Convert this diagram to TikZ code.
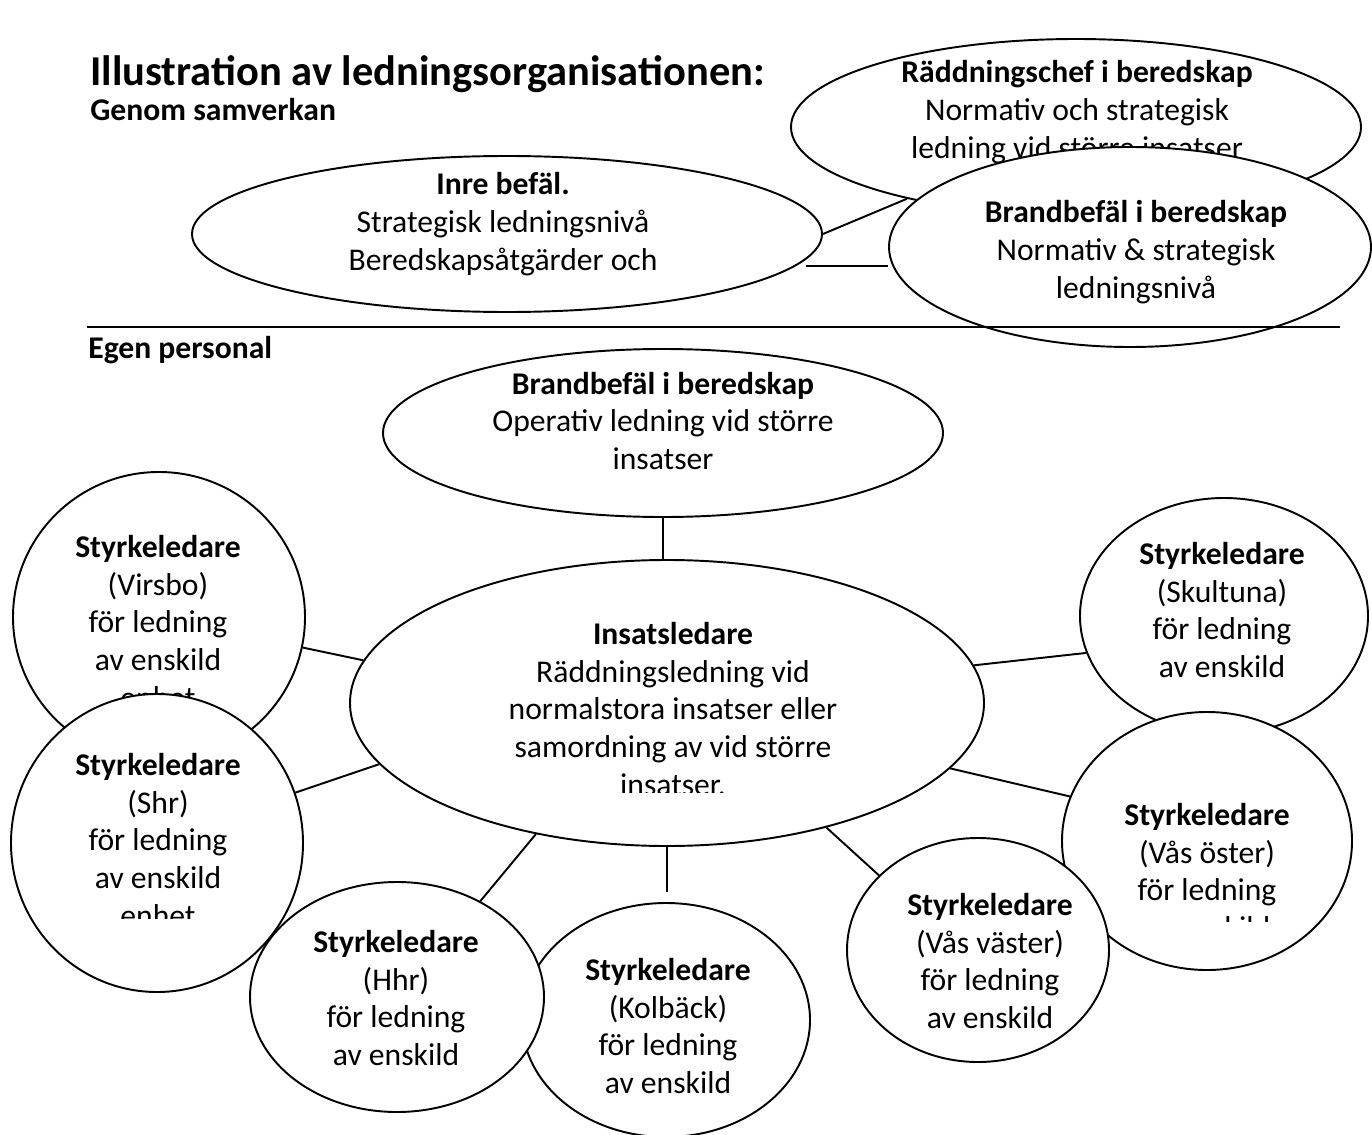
\documentclass[tikz,border=0pt]{standalone}
\usepackage{fontspec}
\setmainfont{Carlito}
\usetikzlibrary{shapes.geometric}
\newcommand\orgfont{\fontsize{18}{21.6}\selectfont}
\tikzset{
  orgshape/.style 2 args={draw, ellipse, fill=white, line width=1.1pt, inner sep=0pt, minimum width={#1*0.02cm}, minimum height={#2*0.02cm}},
  orgtext/.style={align=center, inner sep=0pt, font=\orgfont},
  orghead/.style={anchor=base west, inner sep=0pt, font=\orgfont\bfseries},
  link/.style={line width=1.1pt},
}

\begin{document}
\begin{tikzpicture}[x=0.02cm, y=-0.02cm]
  \useasboundingbox (0,0) rectangle (1372,1135);

  % rubriker
  \node[orghead, font=\fontsize{24.2}{28}\selectfont\bfseries] (title) at (90,86) {Illustration av ledningsorganisationen:};
  \node[orghead] (samverkan) at (90,121) {Genom samverkan};

  % genom samverkan
  \node[orgshape={630}{156}] (inre) at (507,234) {};
  \node[orgtext] (inre-t) at (503,224) {\textbf{Inre befäl.}\\Strategisk ledningsnivå\\Beredskapsåtgärder och};
  \node[orgshape={570}{176}] (rc) at (1076,127) {};
  \node[orgtext] (rc-t) at (1077,112) {\textbf{Räddningschef i beredskap}\\Normativ och strategisk\\ledning vid större insatser};
  \node[orgshape={482}{200}] (bbt) at (1130,247) {};
  \node[orgtext] (bbt-t) at (1136,252) {\textbf{Brandbefäl i beredskap}\\Normativ \& strategisk\\ledningsnivå};

  \draw[link] (inre.east) -- (rc.203);
  \coordinate (inre-gap) at (806,266);
  \draw[link] (inre-gap) -- (inre-gap -| bbt.west);

  \coordinate (rule-l) at (87,327);
  \coordinate (rule-r) at (1340,327);
  \draw[link] (rule-l) -- (rule-r);

  % egen personal
  \node[orghead] (egen) at (88,358) {Egen personal};

  \node[orgshape={560}{168}] (bb) at (663,433) {};
  \node[orgtext] (bb-t) at (663,421) {\textbf{Brandbefäl i beredskap}\\Operativ ledning vid större\\insatser};

  \node[orgshape={634}{286}] (ins) at (667,703) {};
  \begin{scope}
    \clip (340,560) rectangle (1000,792);
    \node[orgtext] (ins-t) at (673,709) {\textbf{Insatsledare}\\Räddningsledning vid\\normalstora insatser eller\\samordning av vid större\\insatser.};
  \end{scope}

  % styrkeledare
  \node[orgshape={292}{290}] (vir) at (159,617) {};
  \node[orgtext] (vir-t) at (158,622) {\textbf{Styrkeledare}\\(Virsbo)\\för ledning\\av enskild\\enhet};
  \node[orgshape={292}{298}] (shr) at (157,843) {};
  \begin{scope}
    \clip (0,700) rectangle (320,918);
    \node[orgtext] (shr-t) at (158,840) {\textbf{Styrkeledare}\\(Shr)\\för ledning\\av enskild\\enhet};
  \end{scope}

  \node[orgshape={288}{236}] (sku) at (1224,616) {};
  \node[orgtext] (sku-t) at (1222,610) {\textbf{Styrkeledare}\\(Skultuna)\\för ledning\\av enskild};
  \node[orgshape={290}{258}] (vo) at (1207,841) {};
  \begin{scope}
    \clip (1060,720) rectangle (1360,921);
    \node[orgtext] (vo-t) at (1207,871) {\textbf{Styrkeledare}\\(Vås öster)\\för ledning\\av enskild};
  \end{scope}
  \node[orgshape={262}{224}] (vv) at (978,950) {};
  \node[orgtext] (vv-t) at (990,961) {\textbf{Styrkeledare}\\(Vås väster)\\för ledning\\av enskild};

  \node[orgshape={288}{234}] (kol) at (666,1020) {};
  \node[orgtext] (kol-t) at (668,1026) {\textbf{Styrkeledare}\\(Kolbäck)\\för ledning\\av enskild};
  \node[orgshape={294}{230}] (hhr) at (397,997) {};
  \node[orgtext] (hhr-t) at (396,998) {\textbf{Styrkeledare}\\(Hhr)\\för ledning\\av enskild};

  % linjer
  \draw[link] (bb.south) -- (bb.south |- ins.north);
  \draw[link] (vir.-12) -- (ins.172);
  \draw[link] (shr.20) -- (ins.192);
  \draw[link] (hhr.49) -- (ins.225);
  \coordinate (kol-gap) at (667,892);
  \draw[link] (ins.south) -- (kol-gap);
  \draw[link] (vv.143) -- (ins.-38);
  \draw[link] (vo.162) -- (ins.-13);
  \draw[link] (sku.195) -- (ins.7);
\end{tikzpicture}
\end{document}
